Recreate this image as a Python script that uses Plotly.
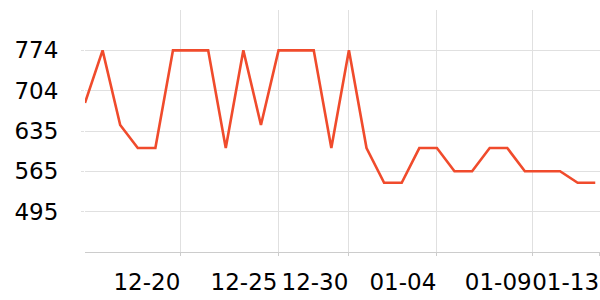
import plotly.graph_objects as go

# 30 evenly spaced observations (index positions)
points = list(range(30))
values = [683, 774, 645, 605, 605, 774, 774, 774, 605, 774,
          645, 774, 774, 774, 605, 774, 605, 545, 545, 605,
          605, 565, 565, 605, 605, 565, 565, 565, 545, 545]

# x tick positions (in index units) and their labels
x_tick_pos = [5.45, 10.97, 15.0, 20.0, 25.42, 29.25]
x_tick_labels = ["12-20", "12-25", "12-30", "01-04", "01-09", "01-13"]

# y ticks
y_tick_vals = [495, 564.75, 634.5, 704.25, 774]
y_tick_labels = ["495", "565", "635", "704", "774"]

fig = go.Figure()
fig.add_trace(go.Scatter(
    x=points, y=values, mode="lines",
    line=dict(color="#f04b2c", width=2.6),
    hoverinfo="skip",
))

font = dict(family="DejaVu Sans", size=23, color="#000000")

fig.update_layout(
    width=600, height=300,
    margin=dict(l=85, r=0, t=10, b=48),
    paper_bgcolor="white", plot_bgcolor="white",
    showlegend=False,
    font=font,
    xaxis=dict(
        range=[0, 29.27],
        tickmode="array", tickvals=x_tick_pos, ticktext=x_tick_labels,
        showgrid=True, gridcolor="#e0e0e0", gridwidth=1,
        showline=True, linecolor="#cccccc", linewidth=1,
        ticks="outside", ticklen=3, tickcolor="#cccccc",
        tickangle=0, automargin=False,
        ticklabelshift=-34, ticklabelstandoff=6,
        zeroline=False, tickfont=font,
    ),
    yaxis=dict(
        range=[425.25, 843.75],
        tickmode="array", tickvals=y_tick_vals, ticktext=y_tick_labels,
        showgrid=True, gridcolor="#e0e0e0", gridwidth=1,
        showline=False, automargin=False,
        ticks="outside", ticklen=3, tickcolor="#e0e0e0",
        ticklabelstandoff=18,
        zeroline=False, tickfont=font,
    ),
)

fig.write_html("out.html")
